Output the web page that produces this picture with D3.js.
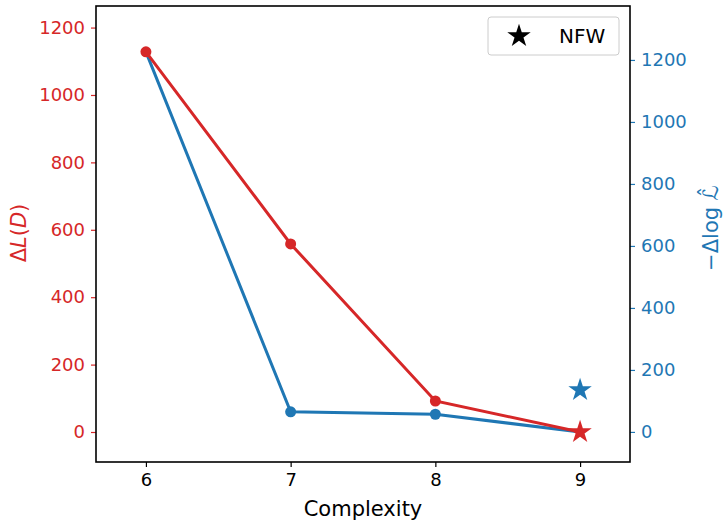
<!doctype html>
<html lang="en">
  <head>
    <meta charset="UTF-8" />
    <title>Complexity vs description length</title>
    <script src="https://unpkg.com/d3@7.9.0/dist/d3.min.js"></script>
    <style>
      body {
        margin: 0;
        background: #fff;
      }
      svg {
        font-family: 'DejaVu Sans', sans-serif;
      }
    </style>
  </head>
  <body>
    <div id="chart"></div>
    <script>
      // values
      const complexity = [6, 7, 8, 9];
      const deltaL = [1128, 558, 92, 0]; // left axis, red
      const deltaLogL = [1226, 65, 57, 0]; // right axis, blue
      const nfwComplexity = 9;
      const nfwDeltaL = 0;
      const nfwDeltaLogL = 135;
      const xTicks = [6, 7, 8, 9];
      const leftTicks = [0, 200, 400, 600, 800, 1000, 1200];
      const rightTicks = [0, 200, 400, 600, 800, 1000, 1200];

      const red = '#d62728';
      const blue = '#1f77b4';

      const W = 725;
      const H = 524;
      const plot = { left: 96, right: 630, top: 6, bottom: 462 };

      const x = d3
        .scaleLinear()
        .domain([5.655, 9.345])
        .range([plot.left, plot.right]);
      const yL = d3
        .scaleLinear()
        .domain([-89, 1264])
        .range([plot.bottom, plot.top]);
      const yR = d3
        .scaleLinear()
        .domain([-97, 1374])
        .range([plot.bottom, plot.top]);

      const svg = d3
        .select('#chart')
        .append('svg')
        .attr('width', W)
        .attr('height', H);

      // axes
      const fs = '18px';
      const fmt = d3.format('d');
      const xAxis = svg
        .append('g')
        .attr('transform', `translate(0,${plot.bottom})`)
        .call(d3.axisBottom(x).tickValues(xTicks).tickFormat(fmt).tickSize(5).tickPadding(6));
      const leftAxis = svg
        .append('g')
        .attr('transform', `translate(${plot.left},0)`)
        .call(d3.axisLeft(yL).tickValues(leftTicks).tickFormat(fmt).tickSize(5).tickPadding(6));
      const rightAxis = svg
        .append('g')
        .attr('transform', `translate(${plot.right},0)`)
        .call(d3.axisRight(yR).tickValues(rightTicks).tickFormat(fmt).tickSize(5).tickPadding(6));

      [xAxis, leftAxis, rightAxis].forEach((g) => {
        g.select('.domain').remove();
        g.selectAll('text').style('font-size', fs).attr('font-family', 'DejaVu Sans');
        g.selectAll('line').attr('stroke-width', 1.2);
      });
      xAxis.selectAll('text').attr('fill', '#000');
      leftAxis.selectAll('text').attr('fill', red);
      leftAxis.selectAll('line').attr('stroke', red);
      rightAxis.selectAll('text').attr('fill', blue);
      rightAxis.selectAll('line').attr('stroke', blue);

      // frame
      svg
        .append('rect')
        .attr('x', plot.left)
        .attr('y', plot.top)
        .attr('width', plot.right - plot.left)
        .attr('height', plot.bottom - plot.top)
        .attr('fill', 'none')
        .attr('stroke', '#000')
        .attr('stroke-width', 1.6);

      const starSym = d3.symbol().type(d3.symbolStar).size(170);

      // blue series (right axis)
      const blueData = complexity.map((c, i) => ({ c, v: deltaLogL[i] }));
      svg
        .append('path')
        .datum(blueData)
        .attr('fill', 'none')
        .attr('stroke', blue)
        .attr('stroke-width', 3)
        .attr('d', d3.line().x((d) => x(d.c)).y((d) => yR(d.v)));
      svg
        .selectAll('.bdot')
        .data(blueData.slice(1, 3))
        .enter()
        .append('circle')
        .attr('cx', (d) => x(d.c))
        .attr('cy', (d) => yR(d.v))
        .attr('r', 5.5)
        .attr('fill', blue);
      svg
        .append('path')
        .attr('d', starSym)
        .attr('transform', `translate(${x(nfwComplexity)},${yR(nfwDeltaLogL)})`)
        .attr('fill', blue);

      // red series (left axis)
      const redData = complexity.map((c, i) => ({ c, v: deltaL[i] }));
      svg
        .append('path')
        .datum(redData)
        .attr('fill', 'none')
        .attr('stroke', red)
        .attr('stroke-width', 3)
        .attr('d', d3.line().x((d) => x(d.c)).y((d) => yL(d.v)));
      svg
        .selectAll('.rdot')
        .data(redData.slice(0, 3))
        .enter()
        .append('circle')
        .attr('cx', (d) => x(d.c))
        .attr('cy', (d) => yL(d.v))
        .attr('r', 5.5)
        .attr('fill', red);
      svg
        .append('path')
        .attr('d', starSym)
        .attr('transform', `translate(${x(nfwComplexity)},${yL(nfwDeltaL)})`)
        .attr('fill', red);

      // axis labels
      svg
        .append('text')
        .attr('x', (plot.left + plot.right) / 2)
        .attr('y', 516)
        .attr('text-anchor', 'middle')
        .style('font-size', '21px')
        .text('Complexity');

      const ll = svg
        .append('text')
        .attr('transform', `translate(26,233) rotate(-90)`)
        .attr('text-anchor', 'middle')
        .attr('fill', red)
        .style('font-size', '21px');
      ll.append('tspan').text('Δ');
      ll.append('tspan').attr('font-style', 'italic').text('L');
      ll.append('tspan').text('(');
      ll.append('tspan').attr('font-style', 'italic').text('D');
      ll.append('tspan').text(')');

      svg
        .append('text')
        .attr('transform', `translate(718,228) rotate(-90)`)
        .attr('text-anchor', 'middle')
        .attr('fill', blue)
        .style('font-size', '21px')
        .text('−Δlog ℒ̂');

      // legend
      const lg = svg.append('g');
      lg.append('rect')
        .attr('x', 488)
        .attr('y', 17)
        .attr('width', 131)
        .attr('height', 38)
        .attr('rx', 3)
        .attr('fill', '#fff')
        .attr('stroke', '#ccc')
        .attr('stroke-width', 1);
      lg.append('path')
        .attr('d', starSym)
        .attr('transform', 'translate(519,36)')
        .attr('fill', '#000');
      lg.append('text')
        .attr('x', 559)
        .attr('y', 43)
        .style('font-size', '20px')
        .text('NFW');
    </script>
  </body>
</html>
